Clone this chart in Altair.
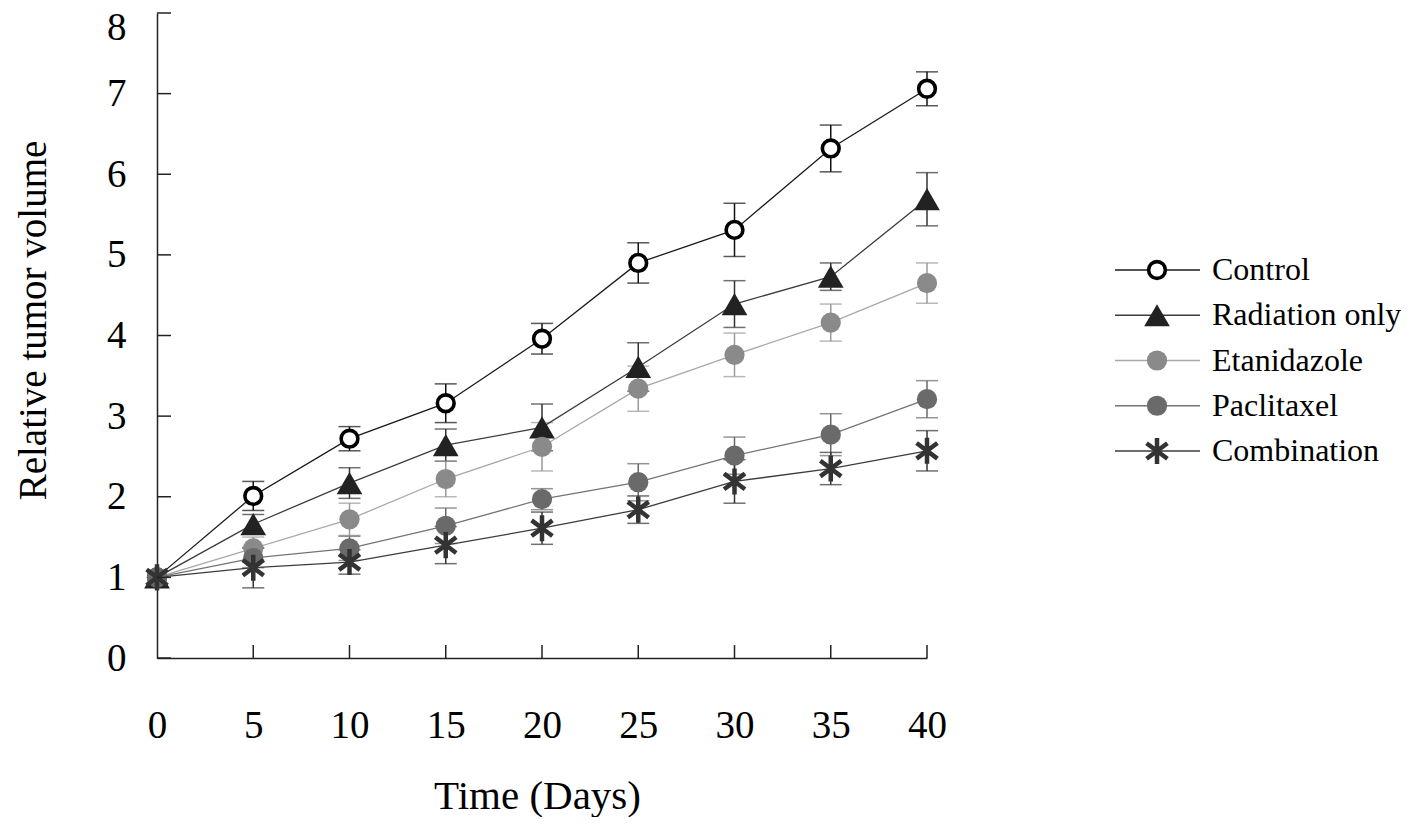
import altair as alt
import pandas as pd

# ---------------- data ----------------
days = [0, 5, 10, 15, 20, 25, 30, 35, 40]
series_names = ["Control", "Radiation only", "Etanidazole", "Paclitaxel", "Combination"]

control = [1.0, 2.01, 2.72, 3.16, 3.96, 4.90, 5.31, 6.32, 7.06]
control_err = [0, 0.18, 0.15, 0.24, 0.19, 0.25, 0.33, 0.29, 0.21]
radiation = [1.0, 1.66, 2.17, 2.64, 2.86, 3.61, 4.39, 4.73, 5.69]
radiation_err = [0, 0.12, 0.19, 0.20, 0.29, 0.30, 0.29, 0.17, 0.33]
etanidazole = [1.0, 1.36, 1.72, 2.22, 2.62, 3.34, 3.76, 4.16, 4.65]
etanidazole_err = [0, 0.14, 0.20, 0.22, 0.30, 0.28, 0.27, 0.23, 0.25]
paclitaxel = [1.0, 1.24, 1.36, 1.64, 1.97, 2.18, 2.51, 2.77, 3.21]
paclitaxel_err = [0, 0.12, 0.15, 0.22, 0.13, 0.23, 0.23, 0.26, 0.23]
combination = [1.0, 1.12, 1.19, 1.40, 1.61, 1.84, 2.19, 2.35, 2.57]
combination_err = [0, 0.25, 0.15, 0.23, 0.20, 0.17, 0.27, 0.20, 0.25]

x_ticks = [0, 5, 10, 15, 20, 25, 30, 35, 40]
y_ticks = [0, 1, 2, 3, 4, 5, 6, 7, 8]

# ---------------- styles ----------------
FONT = "Liberation Serif"
line_colors = ["#1a1a1a", "#3c3c3c", "#a8a8a8", "#747474", "#3c3c3c"]
err_colors = ["#111111", "#333333", "#9a9a9a", "#686868", "#333333"]
star = "M0,-1L0,1M-0.8,-0.6L0.8,0.6M-0.8,0.6L0.8,-0.6"
marker_styles = [
    dict(shape="circle", fill="#ffffff", stroke="#000000", strokeWidth=3.6, size=280, filled=True),
    dict(shape="triangle-up", fill="#222222", stroke="#222222", strokeWidth=0, size=660, filled=True),
    dict(shape="circle", fill="#8a8a8a", stroke="#8a8a8a", strokeWidth=0, size=410, filled=True),
    dict(shape="circle", fill="#6a6a6a", stroke="#6a6a6a", strokeWidth=0, size=410, filled=True),
    dict(shape=star, stroke="#333333", strokeWidth=4.5, size=680, filled=False),
]

means = [control, radiation, etanidazole, paclitaxel, combination]
errs = [control_err, radiation_err, etanidazole_err, paclitaxel_err, combination_err]
rows = []
for k, name in enumerate(series_names):
    for d, m, e in zip(days, means[k], errs[k]):
        rows.append({"day": d, "series": name, "order": k, "mean": m,
                     "err": e, "lo": m - e, "hi": m + e})
df = pd.DataFrame(rows)
err_df = df[df["err"] > 0]


def sc(rng):
    return alt.Scale(domain=series_names, range=rng)


xs = alt.Scale(domain=[0, 40], nice=False, zero=True)
ys = alt.Scale(domain=[0, 8], nice=False, zero=True)

x_axis = alt.Axis(values=x_ticks, ticks=False, tickSize=0, grid=False, format="d",
                  labelFont=FONT, labelFontSize=39, labelColor="#000",
                  labelPadding=48, labelFlush=False,
                  domainColor="#222", domainWidth=1.5,
                  title="Time (Days)", titleFont=FONT, titleFontSize=41,
                  titleFontWeight="normal", titleColor="#000", titlePadding=31,
                  titleX=380)
y_axis = alt.Axis(values=y_ticks, ticks=False, tickSize=0, grid=False, format="d",
                  labelFont=FONT, labelFontSize=39, labelColor="#000",
                  labelPadding=31, labelFlush=False,
                  labelOffset={"condition": {"test": "datum.value == 8", "value": 14}, "value": 0},
                  domainColor="#222", domainWidth=1.5,
                  title="Relative tumor volume", titleFont=FONT, titleFontSize=39,
                  titleFontWeight="normal", titleColor="#000",
                  titleAngle=270, titleAlign="center", titleBaseline="middle",
                  titleX=-124, titleY=307)

X = alt.X("day:Q", scale=xs, axis=x_axis)
Y = alt.Y("mean:Q", scale=ys, axis=y_axis)

err_rule = alt.Chart(err_df).mark_rule(strokeWidth=1.5).encode(
    x=alt.X("day:Q", scale=xs),
    y=alt.Y("lo:Q", scale=ys),
    y2="hi:Q",
    color=alt.Color("series:N", scale=sc(err_colors), legend=None),
)
cap_lo = alt.Chart(err_df).mark_tick(orient="horizontal", size=22, thickness=1.5).encode(
    x=alt.X("day:Q", scale=xs),
    y=alt.Y("lo:Q", scale=ys),
    color=alt.Color("series:N", scale=sc(err_colors), legend=None),
)
cap_hi = alt.Chart(err_df).mark_tick(orient="horizontal", size=22, thickness=1.5).encode(
    x=alt.X("day:Q", scale=xs),
    y=alt.Y("hi:Q", scale=ys),
    color=alt.Color("series:N", scale=sc(err_colors), legend=None),
)
lines = alt.Chart(df).mark_line(strokeWidth=1.3).encode(
    x=X, y=Y,
    color=alt.Color("series:N", scale=sc(line_colors), legend=None),
    detail="series:N",
)
point_layers = []
for name, st in zip(series_names, marker_styles):
    point_layers.append(
        alt.Chart(df).transform_filter(alt.datum.series == name)
        .mark_point(opacity=1, **st)
        .encode(x=alt.X("day:Q", scale=xs), y=alt.Y("mean:Q", scale=ys))
    )
y_tick_marks = alt.Chart(pd.DataFrame({"t": y_ticks})).mark_rule(
    color="#222", strokeWidth=1.5).encode(
    y=alt.Y("t:Q", scale=ys), x=alt.value(0), x2=alt.value(14))
x_tick_marks = alt.Chart(pd.DataFrame({"t": x_ticks[1:]})).mark_rule(
    color="#222", strokeWidth=1.5).encode(
    x=alt.X("t:Q", scale=xs), y=alt.value(645), y2=alt.value(632))

main = alt.layer(err_rule, cap_lo, cap_hi, lines, *point_layers,
                 y_tick_marks, x_tick_marks).resolve_scale(color="independent")

# ---------------- legend ----------------
leg_df = pd.DataFrame({"series": series_names})
LY = alt.Y("series:N", scale=alt.Scale(type="point", domain=series_names,
                                        range=[257, 438], padding=0), axis=None)
leg_line = alt.Chart(leg_df).mark_rule(strokeWidth=1.3).encode(
    y=LY, x=alt.value(958), x2=alt.value(1043),
    color=alt.Color("series:N", scale=sc(line_colors), legend=None),
)
leg_pts = []
for name, st in zip(series_names, marker_styles):
    leg_pts.append(
        alt.Chart(leg_df).transform_filter(alt.datum.series == name)
        .mark_point(opacity=1, **st)
        .encode(y=LY, x=alt.value(1000))
    )
leg_txt = alt.Chart(leg_df).mark_text(
    align="left", baseline="middle", font=FONT, fontSize=32, color="#000").encode(
    y=LY, x=alt.value(1055), text="series:N",
)
legend = alt.layer(leg_line, *leg_pts, leg_txt)

chart = alt.layer(main, legend).resolve_scale(
    y="independent", color="independent",
).properties(
    width=770, height=645,
    autosize=alt.AutoSizeParams(type="none"),
    padding={"left": 149, "top": 5, "right": 474, "bottom": 159},
    background="white",
).configure_view(stroke=None)

chart.save("out.html", embed_options={"renderer": "svg", "actions": False})
